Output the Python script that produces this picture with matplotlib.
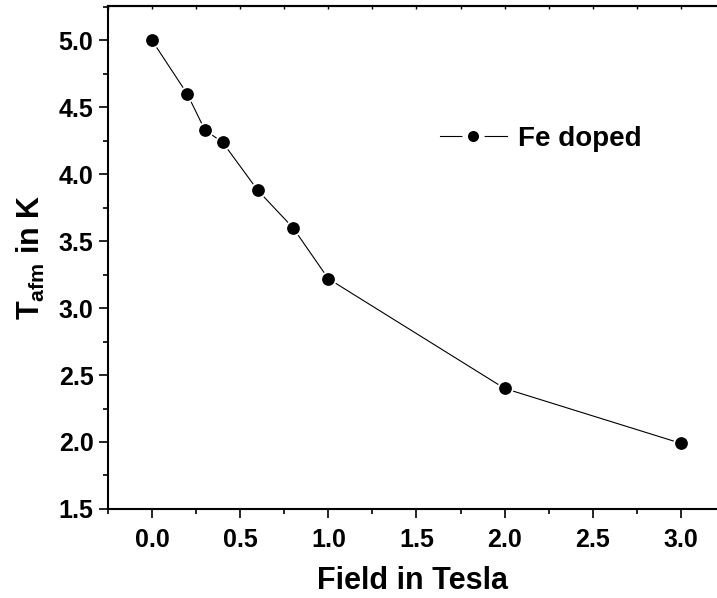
import matplotlib
matplotlib.use('Agg')
import matplotlib.pyplot as plt
from matplotlib.ticker import MultipleLocator

plt.rcParams['font.family'] = 'Liberation Sans'
plt.rcParams['font.weight'] = 'bold'
plt.rcParams['mathtext.fontset'] = 'custom'
plt.rcParams['mathtext.rm'] = 'Liberation Sans:bold'
plt.rcParams['mathtext.bf'] = 'Liberation Sans:bold'

# field (T) and Neel temperature (K)
field = [0.0, 0.2, 0.3, 0.4, 0.6, 0.8, 1.0, 2.0, 3.0]
t_afm = [5.0, 4.6, 4.33, 4.24, 3.88, 3.6, 3.22, 2.4, 1.99]

fig = plt.figure(figsize=(7.17, 5.98), dpi=100)
ax = fig.add_axes([0.1506, 0.149, 0.8494, 0.8415])

# white marker edge leaves a small gap where the line meets each dot
ax.plot(field, t_afm, color='black', lw=0.8, marker='o', ms=10.5,
        markerfacecolor='black', markeredgecolor='white', markeredgewidth=1.3,
        label='Fe doped')

ax.set_xlim(-0.25, 3.205)
ax.set_ylim(1.5, 5.26)

ax.xaxis.set_major_locator(MultipleLocator(0.5))
ax.xaxis.set_minor_locator(MultipleLocator(0.25))
ax.yaxis.set_major_locator(MultipleLocator(0.5))
ax.yaxis.set_minor_locator(MultipleLocator(0.25))

ax.spines['right'].set_visible(False)
for s in ['left', 'bottom', 'top']:
    ax.spines[s].set_linewidth(1.5)

ax.tick_params(which='major', direction='out', length=6.5, width=1.2,
               labelsize=18, pad=4)
ax.tick_params(which='minor', direction='out', length=3.5, width=1.2)
ax.tick_params(axis='x', which='major', pad=7)

# small inward ticks on the top axis
top = ax.secondary_xaxis('top')
top.xaxis.set_major_locator(MultipleLocator(0.25))
top.tick_params(direction='in', length=2, width=1.0, labeltop=False)
top.spines['top'].set_linewidth(1.5)

ax.set_xlabel('Field in Tesla', fontsize=22, fontweight='bold', labelpad=10)
ax.set_ylabel(r'T$_{\mathrm{afm}}$ in K', fontsize=22, fontweight='bold', labelpad=8)

leg = ax.legend(loc='center left', bbox_to_anchor=(0.545, 0.735), frameon=False,
                fontsize=20, handlelength=2.4, handletextpad=0.4,
                borderpad=0, borderaxespad=0, markerscale=0.8)
for h in leg.legend_handles:
    h.set_markeredgewidth(4)
    h.set_markersize(12)

fig.savefig('out.png', dpi=100)
